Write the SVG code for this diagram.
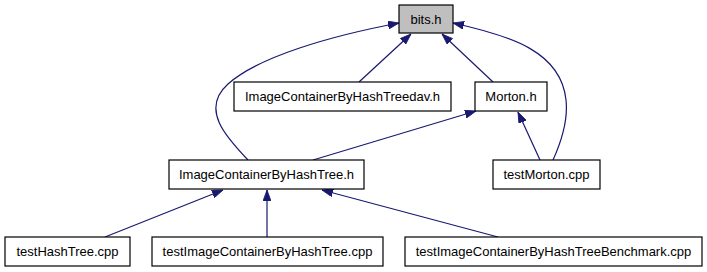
<svg xmlns="http://www.w3.org/2000/svg" width="707" height="272" viewBox="0 0 707 272">
  <style>
    .box { fill: #ffffff; stroke: #000000; stroke-width: 1.2; }
    .box.current { fill: #bfbfbf; }
    .label { font-family: "Liberation Sans", Arial, sans-serif; font-size: 13px; fill: #000000; text-anchor: middle; }
    .edge { fill: none; stroke: #191970; stroke-width: 1.2; marker-end: url(#arrow); }
  </style>
  <defs>
    <marker id="arrow" viewBox="0 0 11 8" markerWidth="11" markerHeight="8" refX="11" refY="4" orient="auto" markerUnits="userSpaceOnUse">
      <path d="M0,0 L11,4 L0,8 z" fill="#191970" stroke="#191970" stroke-width="0.8"/>
    </marker>
  </defs>

  <rect width="707" height="272" fill="#ffffff"/>

  <!-- include dependencies -->
  <g id="edges">
    <path class="edge" d="M248,160 C226,137 200,109 228,84 C258,57 330,36 399,23"/>
    <path class="edge" d="M359,82 L411,34"/>
    <path class="edge" d="M493,82 L442,34"/>
    <path class="edge" d="M553,160 C562,140 568,118 566,100 C561,52 512,36 453,23"/>
    <path class="edge" d="M313,160 L476,111"/>
    <path class="edge" d="M540,160 L518,112"/>
    <path class="edge" d="M105,237 L223,190"/>
    <path class="edge" d="M267,237 L267,190"/>
    <path class="edge" d="M498,237 L322,190"/>
  </g>

  <g id="node-bits">
    <rect class="box current" x="399" y="5" width="54" height="28"/>
    <text class="label" x="426" y="24">bits.h</text>
  </g>
  <g id="node-dav">
    <rect class="box" x="234" y="82" width="217" height="29"/>
    <text class="label" x="342.5" y="101">ImageContainerByHashTreedav.h</text>
  </g>
  <g id="node-morton">
    <rect class="box" x="475" y="82" width="72" height="29"/>
    <text class="label" x="511" y="101">Morton.h</text>
  </g>
  <g id="node-hashtree">
    <rect class="box" x="169" y="160" width="195" height="29"/>
    <text class="label" x="266.5" y="179">ImageContainerByHashTree.h</text>
  </g>
  <g id="node-testmorton">
    <rect class="box" x="493" y="160" width="107" height="29"/>
    <text class="label" x="546.5" y="179">testMorton.cpp</text>
  </g>
  <g id="node-testhashtree">
    <rect class="box" x="5" y="237" width="125" height="29"/>
    <text class="label" x="67.5" y="256">testHashTree.cpp</text>
  </g>
  <g id="node-testimagecontainer">
    <rect class="box" x="152" y="237" width="231" height="29"/>
    <text class="label" x="267.5" y="256">testImageContainerByHashTree.cpp</text>
  </g>
  <g id="node-benchmark">
    <rect class="box" x="405" y="237" width="297" height="29"/>
    <text class="label" x="553.5" y="256">testImageContainerByHashTreeBenchmark.cpp</text>
  </g>
</svg>
